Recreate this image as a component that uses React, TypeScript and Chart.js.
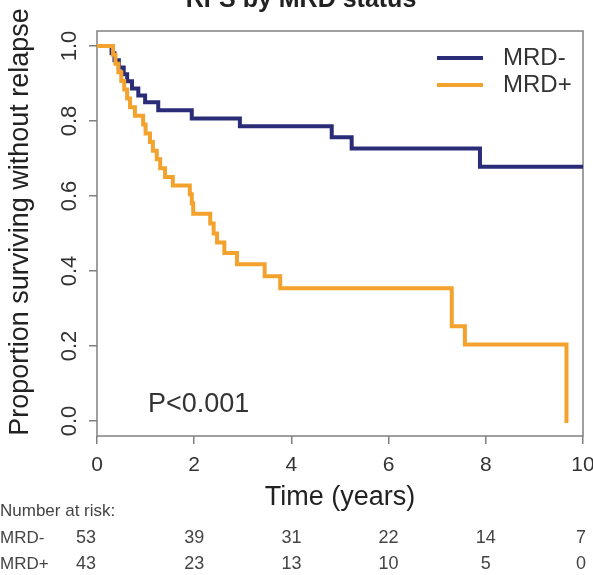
import React, { useEffect, useRef } from "react";
import { Chart, registerables } from "chart.js";

Chart.register(...registerables);

const titleText = "RFS by MRD status";
const yAxisTitle = "Proportion surviving without relapse";
const xAxisTitle = "Time (years)";
const pValueText = "P<0.001";
const seriesNames = ["MRD-", "MRD+"];
const seriesColors = ["#2B2C78", "#F4A22E"];

const mrdNegTimes = [0, 0.3, 0.36, 0.45, 0.55, 0.62, 0.72, 0.85, 0.99, 1.26, 1.95, 2.94, 4.83, 5.24, 7.88, 10];
const mrdNegSurv = [1.0, 0.981, 0.962, 0.943, 0.925, 0.906, 0.887, 0.868, 0.85, 0.829, 0.807, 0.786, 0.757, 0.727, 0.678, 0.678];

const mrdPosTimes = [0, 0.33, 0.38, 0.44, 0.5, 0.56, 0.62, 0.68, 0.78, 0.95, 1.0, 1.09, 1.15, 1.23, 1.3, 1.4, 1.56, 1.91, 1.95, 1.98, 2.33, 2.4, 2.47, 2.62, 2.88, 3.45, 3.77, 7.3, 7.57, 9.66, 9.7];
const mrdPosSurv = [1.0, 0.977, 0.953, 0.93, 0.907, 0.884, 0.86, 0.837, 0.814, 0.791, 0.767, 0.744, 0.721, 0.698, 0.674, 0.651, 0.628, 0.605, 0.581, 0.553, 0.527, 0.5, 0.476, 0.448, 0.418, 0.386, 0.354, 0.253, 0.204, 0.0, 0.0];

const xTicks = [0, 2, 4, 6, 8, 10];
const xTickLabels = ["0", "2", "4", "6", "8", "10"];
const yTicks = [0, 0.2, 0.4, 0.6, 0.8, 1.0];
const yTickLabels = ["0.0", "0.2", "0.4", "0.6", "0.8", "1.0"];

const riskHeader = "Number at risk:";
const riskTimes = [0, 2, 4, 6, 8, 10];
const riskNeg = [53, 39, 31, 22, 14, 7];
const riskPos = [43, 23, 13, 10, 5, 0];

const FONT = "'Liberation Sans', Arial, Helvetica, sans-serif";

function toPoints(ts: number[], vs: number[]) {
  return ts.map((t, i) => ({ x: t, y: vs[i] }));
}

const decorPlugin = {
  id: "decor",
  beforeDatasetsDraw(chart: any) {
    const { ctx, chartArea } = chart;
    ctx.save();
    ctx.strokeStyle = "#808080";
    ctx.lineWidth = 1.5;
    ctx.strokeRect(chartArea.left, chartArea.top, chartArea.right - chartArea.left, chartArea.bottom - chartArea.top);
    ctx.restore();
  },
  afterDraw(chart: any) {
    const { ctx, chartArea } = chart;
    const xs = chart.scales.x;
    const ys = chart.scales.y;
    ctx.save();

    // title (partly cut off at top)
    ctx.fillStyle = "#222";
    ctx.font = `bold 25px ${FONT}`;
    ctx.textAlign = "center";
    ctx.textBaseline = "alphabetic";
    ctx.fillText(titleText, 301, 7);

    // x tick labels
    ctx.fillStyle = "#333";
    ctx.font = `21px ${FONT}`;
    ctx.textAlign = "center";
    ctx.textBaseline = "middle";
    xTicks.forEach((v, i) => {
      ctx.fillText(xTickLabels[i], xs.getPixelForValue(v), 465);
    });

    // y tick labels rotated
    ctx.font = `22px ${FONT}`;
    yTicks.forEach((v, i) => {
      ctx.save();
      ctx.translate(70, ys.getPixelForValue(v));
      ctx.rotate(-Math.PI / 2);
      ctx.fillText(yTickLabels[i], 0, 0);
      ctx.restore();
    });

    // axis titles
    ctx.fillStyle = "#222";
    ctx.font = `27px ${FONT}`;
    ctx.fillText(xAxisTitle, (chartArea.left + chartArea.right) / 2, 498);
    ctx.save();
    ctx.translate(21, 222);
    ctx.rotate(-Math.PI / 2);
    ctx.fillText(yAxisTitle, 0, 0);
    ctx.restore();

    // p-value
    ctx.fillStyle = "#333";
    ctx.font = `27px ${FONT}`;
    ctx.textAlign = "left";
    ctx.fillText(pValueText, 148, 405);

    // legend
    const legY = [58, 85];
    ctx.font = `24px ${FONT}`;
    seriesNames.forEach((name, i) => {
      ctx.strokeStyle = seriesColors[i];
      ctx.lineWidth = 4;
      ctx.beginPath();
      ctx.moveTo(437, legY[i]);
      ctx.lineTo(483, legY[i]);
      ctx.stroke();
      ctx.fillStyle = "#333";
      ctx.fillText(name, 503, legY[i]);
    });

    // number at risk table
    ctx.fillStyle = "#444";
    ctx.font = `17px ${FONT}`;
    ctx.textAlign = "left";
    ctx.fillText(riskHeader, 0, 511);
    ctx.fillText(seriesNames[0], 0, 538);
    ctx.fillText(seriesNames[1], 0, 564);
    ctx.font = `18px ${FONT}`;
    ctx.textAlign = "center";
    riskTimes.forEach((t, i) => {
      let px = xs.getPixelForValue(t);
      if (i === 0) px -= 11;
      if (i === riskTimes.length - 1) px -= 2;
      ctx.fillText(String(riskNeg[i]), px, 538);
      ctx.fillText(String(riskPos[i]), px, 564);
    });

    ctx.restore();
  },
};

export default function App() {
  const ref = useRef<HTMLCanvasElement | null>(null);
  useEffect(() => {
    if (!ref.current) return;
    const chart = new Chart(ref.current, {
      type: "line",
      data: {
        datasets: [
          {
            label: seriesNames[1],
            data: toPoints(mrdPosTimes, mrdPosSurv),
            borderColor: seriesColors[1],
            borderWidth: 4,
            pointRadius: 0,
            stepped: true,
            fill: false,
          },
          {
            label: seriesNames[0],
            data: toPoints(mrdNegTimes, mrdNegSurv),
            borderColor: seriesColors[0],
            borderWidth: 4,
            pointRadius: 0,
            stepped: true,
            fill: false,
          },
        ],
      },
      options: {
        animation: false,
        responsive: false,
        maintainAspectRatio: false,
        devicePixelRatio: 1,
        layout: { padding: { left: 0, top: 31, right: 10, bottom: 0 } },
        plugins: { legend: { display: false }, tooltip: { enabled: false }, title: { display: false } },
        scales: {
          x: {
            type: "linear",
            min: 0,
            max: 10,
            afterBuildTicks: (s: any) => {
              s.ticks = xTicks.map((v) => ({ value: v }));
            },
            afterFit: (s: any) => {
              s.height = 139;
            },
            ticks: { display: false },
            grid: { display: true, drawOnChartArea: false, drawTicks: true, tickLength: 8, color: "#808080", lineWidth: 1.5 },
            border: { display: false },
          },
          y: {
            type: "linear",
            min: -0.04,
            max: 1.04,
            afterBuildTicks: (s: any) => {
              s.ticks = yTicks.map((v) => ({ value: v }));
            },
            afterFit: (s: any) => {
              s.width = 97;
            },
            ticks: { display: false },
            grid: { display: true, drawOnChartArea: false, drawTicks: true, tickLength: 8, color: "#808080", lineWidth: 1.5 },
            border: { display: false },
          },
        },
      },
      plugins: [decorPlugin],
    });
    return () => chart.destroy();
  }, []);
  return (
    <div style={{ position: "absolute", left: 0, top: 0, width: 593, height: 575, background: "#fff" }}>
      <canvas ref={ref} width={593} height={575} style={{ display: "block" }} />
    </div>
  );
}
